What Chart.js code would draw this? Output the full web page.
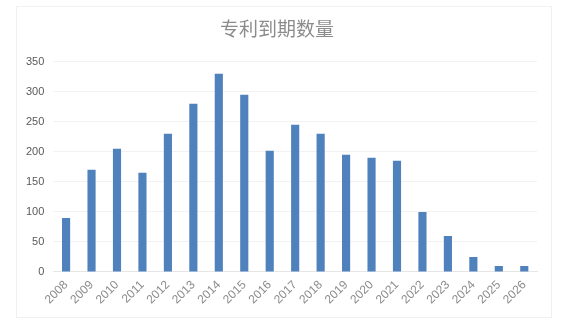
<!DOCTYPE html>
<html lang="zh">
<head>
<meta charset="UTF-8">
<title>专利到期数量</title>
<script src="https://cdn.jsdelivr.net/npm/chart.js"></script>
<style>
  html, body { margin: 0; padding: 0; background: #fff; }
  #box { position: absolute; left: 16px; top: 6px; width: 536px; height: 312px; border: 1px solid #f0f0f0; box-sizing: border-box; }
  #chart { display: block; }
</style>
</head>
<body>
<div id="box"><canvas id="chart" width="534" height="310"></canvas></div>
<script>
// 数据
const years = ['2008', '2009', '2010', '2011', '2012', '2013', '2014', '2015', '2016', '2017',
               '2018', '2019', '2020', '2021', '2022', '2023', '2024', '2025', '2026'];
const counts = [90, 170, 205, 165, 230, 280, 330, 295, 202, 245,
                230, 195, 190, 185, 100, 60, 25, 10, 10];
const chartTitle = '专利到期数量';

const tickFont = { family: 'Liberation Sans, Arial, sans-serif', size: 11 };

new Chart(document.getElementById('chart').getContext('2d'), {
  type: 'bar',
  data: {
    labels: years,
    datasets: [{
      data: counts,
      backgroundColor: '#4f81bd',
      barPercentage: 0.32,
      categoryPercentage: 1.0
    }]
  },
  options: {
    responsive: false,
    animation: false,
    layout: { padding: { left: 0, right: 14, top: 0, bottom: 4 } },
    plugins: {
      legend: { display: false },
      tooltip: { enabled: false },
      title: {
        display: true,
        text: chartTitle,
        color: '#8c8c8c',
        font: { family: 'Noto Sans CJK SC', size: 19, weight: 'normal' },
        padding: { top: 10, bottom: 22 }
      }
    },
    scales: {
      x: {
        grid: { display: false, drawTicks: false },
        border: { color: '#e6e6e6' },
        ticks: {
          color: '#8c8c8c',
          font: { family: 'Liberation Sans, Arial, sans-serif', size: 12 },
          minRotation: 45,
          maxRotation: 45,
          padding: 6
        }
      },
      y: {
        min: 0,
        max: 350,
        grid: { color: '#f2f2f2', drawTicks: false },
        border: { display: false },
        ticks: {
          stepSize: 50,
          color: '#595959',
          font: tickFont,
          padding: 9
        }
      }
    }
  }
});
</script>
</body>
</html>
